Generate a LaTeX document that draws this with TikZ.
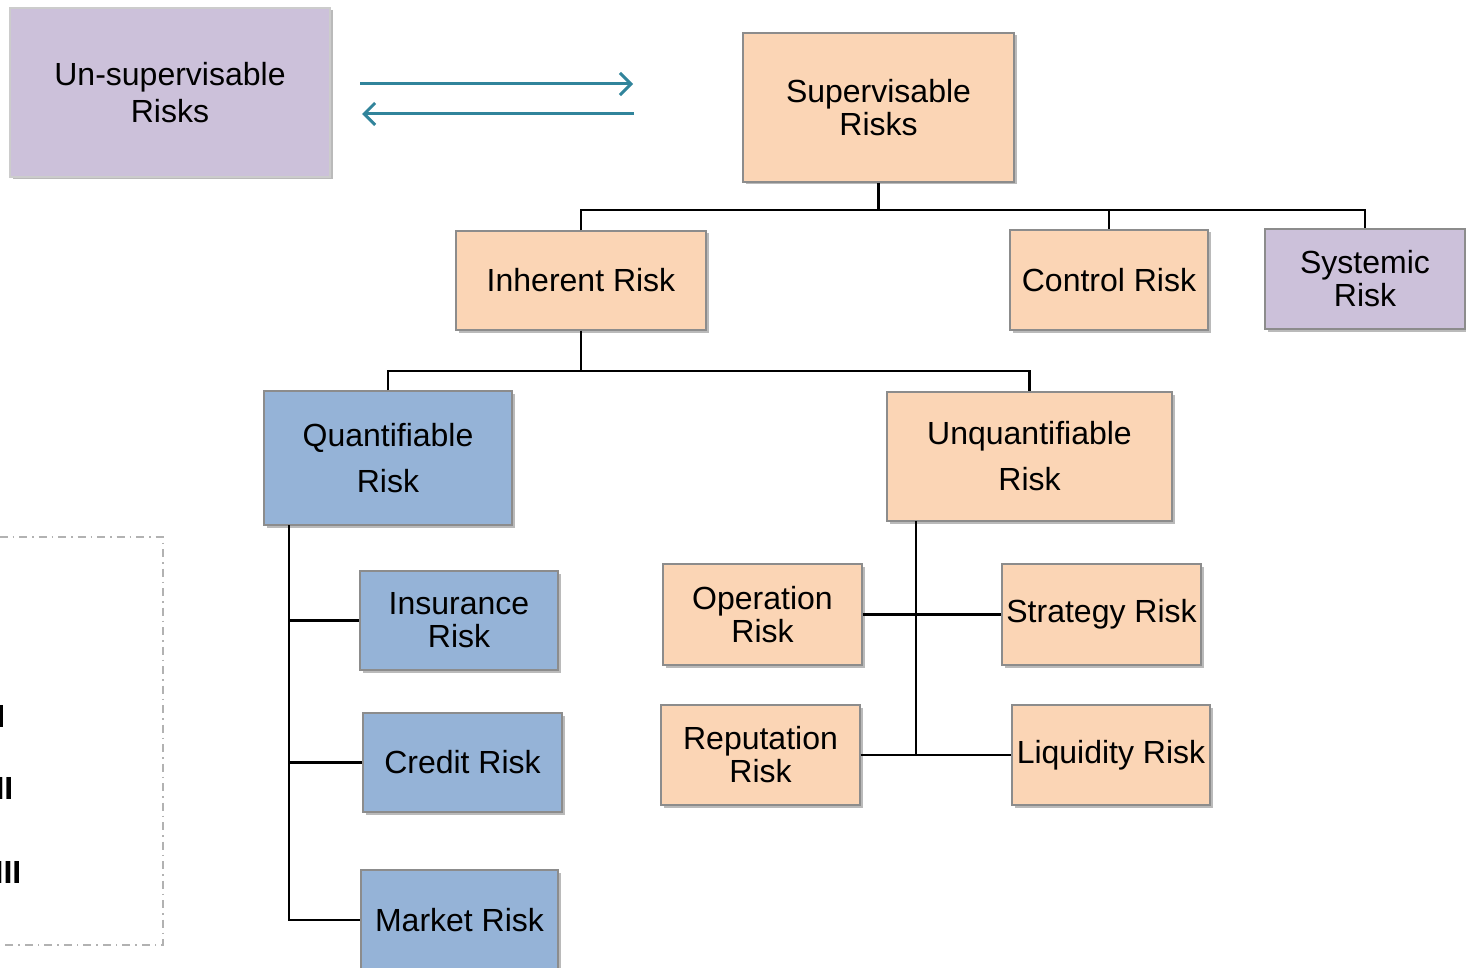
\documentclass[tikz,border=0pt]{standalone}
\usepackage{fontspec}
\setmainfont{Liberation Sans}
\usetikzlibrary{shadows,arrows.meta}
\definecolor{peach}{HTML}{FBD5B5}
\definecolor{lav}{HTML}{CCC1DA}
\definecolor{bluebox}{HTML}{95B3D7}
\definecolor{teal}{HTML}{31849B}
\tikzset{
  box/.style={draw=black!45, line width=1.2pt, inner sep=0pt, align=center,
    font=\fontsize{32}{33}\selectfont,
    drop shadow={shadow xshift=2.5pt, shadow yshift=-2.5pt, opacity=0.45, fill=black!60}},
  pbox/.style={box, fill=peach},
  lbox/.style={box, fill=lav},
  bbox/.style={box, fill=bluebox},
  wide/.style={font=\fontsize{32}{46}\selectfont},
  conn/.style={draw=black, line width=2.2pt},
  tarrow/.style={draw=teal, line width=3pt, -{Straight Barb[length=11pt,width=22pt,line width=3pt]}},
  roman/.style={font=\fontsize{32}{33}\selectfont\bfseries, inner sep=0pt, anchor=east}
}
\begin{document}
\begin{tikzpicture}[x=1pt,y=1pt]
\useasboundingbox (0,0) rectangle (1466,-968);
% dashed box
\draw[black!30, line width=1.3pt, dash pattern=on 8pt off 5pt on 1.5pt off 5pt] (-20,-537) -- (163,-537) -- (163,-945) -- (-20,-945);
\node[roman] (r1) at (5.5,-716) {I};
\node[roman] (r2) at (13.5,-788) {II};
\node[roman] (r3) at (21.5,-872) {III};
% boxes
\node[box, fill=lav, draw=black!20, drop shadow={opacity=0}, font=\fontsize{32}{37}\selectfont, minimum width=320, minimum height=169] (uns) at (170,-92.5) {Un-supervisable\\Risks};
\node[pbox, minimum width=271, minimum height=149] (sup) at (878.5,-107.5) {Supervisable\\Risks};
\node[pbox, minimum width=250, minimum height=99] (inh) at (581,-280.5) {Inherent Risk};
\node[pbox, minimum width=198, minimum height=100] (ctl) at (1109,-280) {Control Risk};
\node[lbox, minimum width=200, minimum height=100] (sys) at (1365,-279) {Systemic\\Risk};
\node[bbox, wide, minimum width=248, minimum height=134] (qua) at (388,-458) {Quantifiable\\Risk};
\node[pbox, wide, minimum width=285, minimum height=129] (unq) at (1029.5,-456.5) {Unquantifiable\\Risk};
\node[bbox, minimum width=198, minimum height=99] (ins) at (459,-620.5) {Insurance\\Risk};
\node[bbox, minimum width=199, minimum height=99] (cre) at (462.5,-762.5) {Credit Risk};
\node[bbox, minimum width=197, minimum height=100] (mkt) at (459.5,-920) {Market Risk};
\node[pbox, minimum width=199, minimum height=101] (ope) at (762.5,-614.5) {Operation\\Risk};
\node[pbox, minimum width=199, minimum height=101] (str) at (1101.5,-614.5) {Strategy Risk};
\node[pbox, minimum width=199, minimum height=100] (rep) at (760.5,-755) {Reputation\\Risk};
\node[pbox, minimum width=198, minimum height=100] (liq) at (1111,-755) {Liquidity Risk};
% arrows
\coordinate (a1s) at (360,-84); \coordinate (a1e) at (633,-84);
\coordinate (a2s) at (634,-114); \coordinate (a2e) at (362,-114);
\draw[tarrow] (a1s) -- (a1e);
\draw[tarrow] (a2s) -- (a2e);
% connectors
\coordinate (j1) at (878.5,-210);
\draw[conn] (sup.south) -- (j1);
\draw[conn] (inh.north) |- (j1) -| (sys.north);
\draw[conn] (j1) -| (ctl.north);
\coordinate (j2) at (581,-371);
\draw[conn] (inh.south) -- (j2);
\draw[conn] (qua.north) |- (j2) -| (unq.north);
\coordinate (qv) at (289,-525);
\draw[conn] (qv) |- (mkt.west);
\draw[conn] (qv |- ins.west) -- (ins.west);
\draw[conn] (qv |- cre.west) -- (cre.west);
\coordinate (uv) at (916,-521);
\draw[conn] (uv) -- (916,-755);
\draw[conn] (ope.east) -- (str.west);
\draw[conn] (rep.east) -- (liq.west);
\end{tikzpicture}
\end{document}
